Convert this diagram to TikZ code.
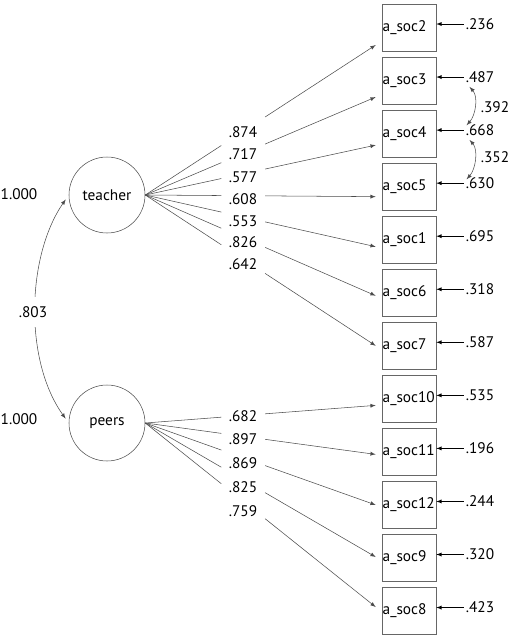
\documentclass[tikz,border=0pt]{standalone}
\usepackage{fontspec}
\setmainfont{PT Sans}
\usetikzlibrary{calc}
\begin{document}
\begin{tikzpicture}[x=0.75pt, y=-0.75pt, >=latex]
    \tikzstyle{every node} = [font=\fontsize{11.5pt}{13pt}\selectfont]
    \tikzstyle{latent} = [circle, draw=black!70, inner sep=0pt, minimum size=57pt]
    \tikzstyle{obs} = [rectangle, draw=black!60, inner xsep=0.5pt, inner ysep=1pt, minimum width=40.5pt, minimum height=35.25pt, text width=39.5pt, align=left]
    \tikzstyle{coef} = [inner sep=1pt]
    \tikzstyle{err} = [inner sep=1.5pt]
    \tikzstyle{load} = [draw=black!70, thin]
    \useasboundingbox (0,0) rectangle (512,637);
    \node[latent] (teacher) at (107,195) {teacher};
    \node[latent] (peers) at (107,423) {peers};
    \node (vt) at (19,194) {1.000};
    \node (vp) at (19,419) {1.000};
    \foreach \n/\e [count=\i from 0] in {2/.236, 3/.487, 4/.668, 5/.630, 1/.695, 6/.318, 7/.587, 10/.535, 11/.196, 12/.244, 9/.320, 8/.423} {
        \node[obs] (s\n) at (409, 27.5+53.05*\i) {a\_soc\n};
        \node[err] (e\n) at (480, 24+53.05*\i) {\e};
        \draw[->] (e\n.west) -- (e\n.west -| s\n.east);
    }
    \foreach \n/\dy/\lab/\ly in {2/17.5/.874/132, 3/16.5/.717/154, 4/11.5/.577/177, 5/10/.608/199, 1/7/.553/221, 6/3/.826/242, 7/0/.642/264} {
        \coordinate (t\n) at ($(s\n.west)+(-6,\dy)$);
        \node[coef] (l\n) at (243,\ly) {\lab};
        \draw[load] (teacher.east) -- ($(teacher.east)!0.33!(t\n)$);
        \draw[load,->] ($(teacher.east)!0.52!(t\n)$) -- (t\n);
    }
    \foreach \n/\dy/\lab/\ly in {10/6.5/.682/416, 11/2.5/.897/439, 12/0/.869/463, 9/-1/.825/487, 8/-4/.759/511} {
        \coordinate (t\n) at ($(s\n.west)+(-6,\dy)$);
        \node[coef] (l\n) at (243,\ly) {\lab};
        \draw[load] (peers.east) -- ($(peers.east)!0.33!(t\n)$);
        \draw[load,->] ($(peers.east)!0.52!(t\n)$) -- (t\n);
    }
    \draw[load, <->, shorten <=4pt, shorten >=4pt] (teacher.west) .. controls +(-42,61) and +(-45,-63) .. (peers.west);
    \node[coef, fill=white, inner ysep=7pt] (cov) at (33,312) {.803};
    \draw[load, <->] ($(e3.south west)+(6,2)$) .. controls +(9,10) and +(9,-10) .. ($(e4.north west)+(3,3)$);
    \node[coef] (c34) at (495,107) {.392};
    \draw[load, <->] ($(e4.south west)+(6,2)$) .. controls +(9,10) and +(9,-10) .. ($(e5.north west)+(3,4)$);
    \node[coef] (c45) at (495,157) {.352};
\end{tikzpicture}
\end{document}
